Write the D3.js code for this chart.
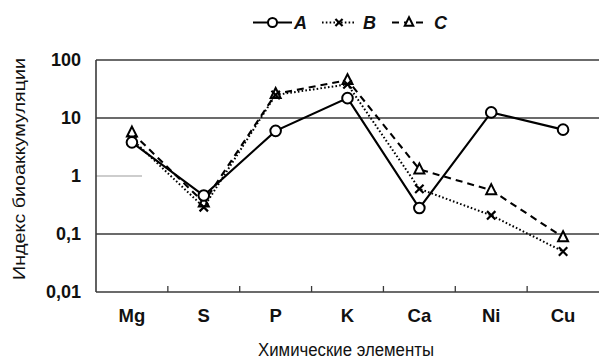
<!DOCTYPE html>
<html>
<head>
<meta charset="utf-8">
<script src="https://cdn.jsdelivr.net/npm/d3@7"></script>
<style>
  html, body { margin: 0; padding: 0; background: #fff; }
  svg { display: block; font-family: "Liberation Sans", Arial, sans-serif; }
</style>
</head>
<body>
<svg id="chart" width="599" height="361"></svg>
<script>
// Bioaccumulation index by chemical element, three sample series
const elements = ["Mg", "S", "P", "K", "Ca", "Ni", "Cu"];
const seriesA = [3.8, 0.46, 6.0, 22, 0.28, 12.5, 6.3];
const seriesB = [4.3, 0.29, 25, 38, 0.6, 0.21, 0.05];
const seriesC = [5.6, 0.35, 26, 45, 1.3, 0.57, 0.088];
const seriesNames = ["A", "B", "C"];
const yTicks = [0.01, 0.1, 1, 10, 100];
const yTickLabels = ["0,01", "0,1", "1", "10", "100"];

const svg = d3.select("#chart");
const m = { left: 96, right: 599, top: 60, bottom: 292 };

const x = d3.scaleBand().domain(elements).range([m.left, m.right]);
const y = d3.scaleLog().domain([0.01, 100]).range([m.bottom, m.top]);
const cx = d => x(d) + x.bandwidth() / 2;

// horizontal gridlines at 0.1, 10 and 100
svg.append("g").selectAll("line")
  .data([0.1, 10, 100]).join("line")
  .attr("x1", m.left).attr("x2", m.right)
  .attr("y1", d => y(d)).attr("y2", d => y(d))
  .attr("stroke", "#3a3a3a").attr("stroke-width", 1.6);

// faint short mark at 1
svg.append("line")
  .attr("x1", m.left).attr("x2", m.left + 46)
  .attr("y1", y(1)).attr("y2", y(1))
  .attr("stroke", "#bdbdbd").attr("stroke-width", 1.3);

// left axis line
svg.append("line")
  .attr("x1", m.left).attr("x2", m.left)
  .attr("y1", m.top).attr("y2", m.bottom)
  .attr("stroke", "#3a3a3a").attr("stroke-width", 1.6);

// bottom axis with inward ticks between categories
svg.append("line")
  .attr("x1", m.left).attr("x2", m.right)
  .attr("y1", m.bottom).attr("y2", m.bottom)
  .attr("stroke", "#3a3a3a").attr("stroke-width", 1.6);
svg.append("g").selectAll("line")
  .data(elements.slice(1)).join("line")
  .attr("x1", d => x(d)).attr("x2", d => x(d))
  .attr("y1", m.bottom).attr("y2", m.bottom - 6)
  .attr("stroke", "#3a3a3a").attr("stroke-width", 1.3);

// y tick labels
svg.append("g").selectAll("text")
  .data(yTicks).join("text")
  .attr("x", 81).attr("y", d => y(d))
  .attr("dy", "0.36em")
  .attr("text-anchor", "end")
  .attr("font-size", 18).attr("font-weight", "bold")
  .attr("fill", "#111")
  .text((d, i) => yTickLabels[i]);

// x category labels
svg.append("g").selectAll("text")
  .data(elements).join("text")
  .attr("x", d => cx(d)).attr("y", 315)
  .attr("dy", "0.36em")
  .attr("text-anchor", "middle")
  .attr("font-size", 18.5).attr("font-weight", "bold")
  .attr("fill", "#111")
  .text(d => d);

// axis titles
svg.append("text")
  .attr("x", 346).attr("y", 350).attr("dy", "0.36em")
  .attr("text-anchor", "middle")
  .attr("font-size", 18).attr("fill", "#111")
  .attr("textLength", 176).attr("lengthAdjust", "spacingAndGlyphs")
  .text("Химические элементы");
svg.append("text")
  .attr("transform", "translate(19,169) rotate(-90)")
  .attr("dy", "0.36em")
  .attr("text-anchor", "middle")
  .attr("font-size", 17).attr("fill", "#111")
  .attr("textLength", 222).attr("lengthAdjust", "spacingAndGlyphs")
  .text("Индекс биоаккумуляции");

const line = d3.line().x((d, i) => cx(elements[i])).y(d => y(d));

const styles = {
  A: { dash: null, width: 2.1 },
  B: { dash: "1.6,2.2", width: 2 },
  C: { dash: "7,5", width: 2.1 }
};

function drawMarker(g, name, px, py, k = 1) {
  if (name === "A") {
    g.append("circle").attr("cx", px).attr("cy", py).attr("r", 5.3 * k)
      .attr("fill", "#fff").attr("stroke", "#000").attr("stroke-width", 2);
  } else if (name === "B") {
    const s = 4.2 * k;
    g.append("path")
      .attr("d", `M${px - s},${py - s}L${px + s},${py + s}M${px - s},${py + s}L${px + s},${py - s}`)
      .attr("stroke", "#000").attr("stroke-width", 2.2).attr("fill", "none");
  } else {
    const s = 5 * k;
    g.append("path")
      .attr("d", `M${px},${py - s - 1}L${px + s},${py + s - 1}L${px - s},${py + s - 1}Z`)
      .attr("fill", "#fff").attr("stroke", "#000").attr("stroke-width", 2);
  }
}

const seriesData = { A: seriesA, B: seriesB, C: seriesC };
const drawOrder = ["C", "B", "A"];
drawOrder.forEach(name => {
  const st = styles[name];
  const g = svg.append("g");
  g.append("path")
    .datum(seriesData[name])
    .attr("d", line)
    .attr("fill", "none")
    .attr("stroke", "#000")
    .attr("stroke-width", st.width)
    .attr("stroke-dasharray", st.dash);
  seriesData[name].forEach((v, i) => drawMarker(g, name, cx(elements[i]), y(v)));
});

// legend
const legendItems = [
  { name: "A", x1: 253, x2: 292, tx: 294 },
  { name: "B", x1: 322, x2: 356, tx: 363 },
  { name: "C", x1: 392, x2: 426, tx: 434 }
];
const lg = svg.append("g");
legendItems.forEach(it => {
  const st = styles[it.name];
  lg.append("line")
    .attr("x1", it.x1).attr("x2", it.x2).attr("y1", 22.5).attr("y2", 22.5)
    .attr("stroke", "#000").attr("stroke-width", st.width)
    .attr("stroke-dasharray", st.dash);
  drawMarker(lg, it.name, (it.x1 + it.x2) / 2, 22.5, 0.85);
  lg.append("text")
    .attr("x", it.tx).attr("y", 23).attr("dy", "0.36em")
    .attr("font-size", 18).attr("font-weight", "bold").attr("font-style", "italic")
    .attr("fill", "#111")
    .text(it.name);
});
</script>
</body>
</html>
